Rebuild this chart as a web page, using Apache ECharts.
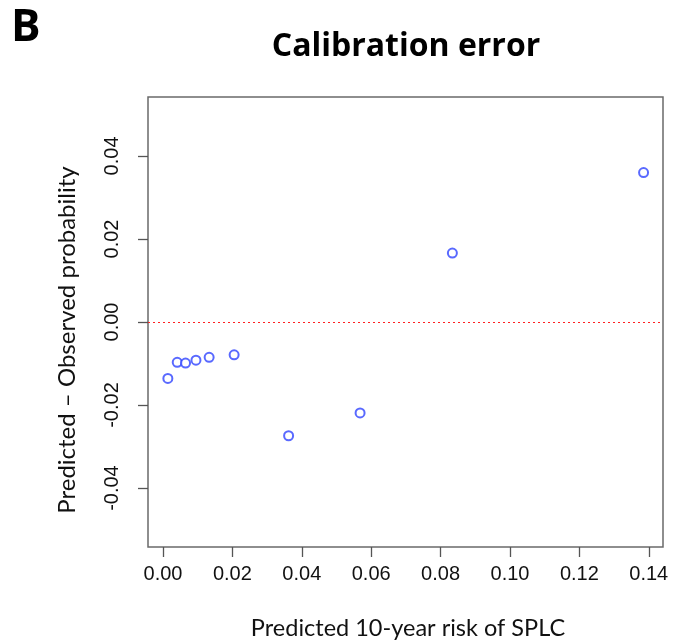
<!DOCTYPE html>
<html><head><meta charset="utf-8">
<script src="https://cdn.jsdelivr.net/npm/echarts@6/dist/echarts.min.js"></script>
<style>html,body{margin:0;padding:0;background:#fff}#c{width:677px;height:644px}</style>
</head><body><div id="c"></div>
<script>
const predicted = [0.0014, 0.0041, 0.0065, 0.0095, 0.0133, 0.0205, 0.0362, 0.0568, 0.0834, 0.1385];
const calibError = [-0.0136, -0.0097, -0.0099, -0.0092, -0.0085, -0.0079, -0.0274, -0.0219, 0.0166, 0.0360];
const xTicks = [0, 0.02, 0.04, 0.06, 0.08, 0.10, 0.12, 0.14];
const yTicks = [-0.04, -0.02, 0, 0.02, 0.04];
const panelLabel = 'B';
const titleText = 'Calibration error';
const xName = 'Predicted 10-year risk of SPLC';
const yName = 'Predicted \u2013 Observed probability';

const chart = echarts.init(document.getElementById('c'), null, {renderer: 'canvas'});
const tickFont = '"Liberation Sans", Arial, sans-serif';
const nameFont = 'Lato, "Open Sans", sans-serif';
chart.setOption({
  animation: false,
  backgroundColor: '#fff',
  grid: {left: 148, top: 97, width: 515, height: 450, show: true, borderColor: '#6a6a6a', borderWidth: 1.5, backgroundColor: 'transparent'},
  xAxis: {
    type: 'value', min: -0.00432, max: 0.1441,
    splitLine: {show: false},
    axisLine: {show: false, onZero: false},
    axisTick: {show: true, length: 10, customValues: xTicks, lineStyle: {color: '#555', width: 1.3}},
    axisLabel: {customValues: xTicks, formatter: v => v.toFixed(2), color: '#111', fontFamily: tickFont, fontSize: 20, margin: 17}
  },
  yAxis: {
    type: 'value', min: -0.0542, max: 0.0542,
    splitLine: {show: false},
    axisLine: {show: false, onZero: false},
    axisTick: {show: true, length: 10, customValues: yTicks, lineStyle: {color: '#555', width: 1.3}},
    axisLabel: {customValues: yTicks, formatter: v => v.toFixed(2), rotate: 90, color: '#111', fontFamily: tickFont, fontSize: 20, margin: 26}
  },
  series: [{
    type: 'scatter',
    data: predicted.map((x, i) => [x, calibError[i]]),
    symbol: 'emptyCircle', symbolSize: 9,
    itemStyle: {color: '#2f44ff', borderColor: '#2f44ff', borderWidth: 1.5},
    markLine: {
      silent: true, symbol: 'none', label: {show: false},
      lineStyle: {color: '#ff2020', type: [2, 3], width: 1.2},
      data: [{yAxis: 0}]
    }
  }],
  graphic: [
    {type: 'text', left: 11, top: 6, style: {text: panelLabel, font: 'bold 44px "Open Sans", Lato, sans-serif', fill: '#000'}},
    {type: 'text', x: 406, y: 47, style: {text: titleText, font: 'bold 32px "Open Sans", Lato, sans-serif', fill: '#000', textAlign: 'center', textVerticalAlign: 'middle'}},
    {type: 'text', x: 408, y: 628, style: {text: xName, font: '23.5px ' + nameFont, fill: '#111', textAlign: 'center', textVerticalAlign: 'middle'}},
    {type: 'text', x: 67, y: 340, rotation: Math.PI / 2, style: {text: yName, font: '24px ' + nameFont, fill: '#111', textAlign: 'center', textVerticalAlign: 'middle'}}
  ]
});
</script></body></html>
